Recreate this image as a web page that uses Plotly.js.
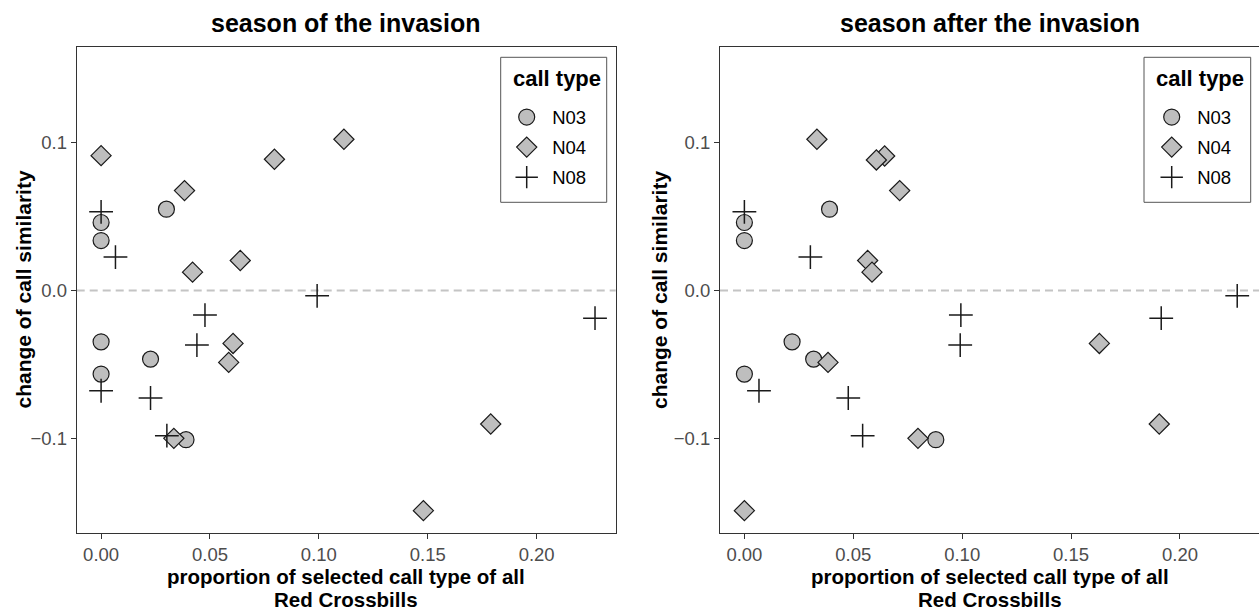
<!DOCTYPE html>
<html>
<head>
<meta charset="utf-8">
<script src="https://cdn.plot.ly/plotly-3.0.1.min.js"></script>
<style>html,body{margin:0;padding:0;background:#fff;}#chart{width:1259px;height:610px;}</style>
</head>
<body>
<div id="chart"></div>
<script>
// ---- data ----
const panelTitles = ['season of the invasion', 'season after the invasion'];
const xTitleLines = ['proportion of selected call type of all', 'Red Crossbills'];
const yTitle = 'change of call similarity';
const legendTitle = 'call type';
const callTypes = ['N03', 'N04', 'N08'];
const xTickVals = [0, 0.05, 0.10, 0.15, 0.20];
const xTickText = ['0.00', '0.05', '0.10', '0.15', '0.20'];
const yTickVals = [-0.1, 0, 0.1];
const yTickText = ['\u22120.1', '0.0', '0.1'];

// season of the invasion
const n03OfX = [0, 0, 0.030, 0, 0.0227, 0, 0.039];
const n03OfY = [0.046, 0.0338, 0.055, -0.0347, -0.0464, -0.0565, -0.1009];
const n04OfX = [0, 0.1115, 0.0796, 0.0383, 0.0639, 0.042, 0.0606, 0.0586, 0.0334, 0.1789, 0.148];
const n04OfY = [0.0912, 0.1023, 0.0888, 0.0676, 0.0203, 0.0124, -0.0358, -0.0486, -0.100, -0.0903, -0.1489];
const n08OfX = [0, 0.0066, 0.0992, 0.0477, 0.2268, 0.044, 0, 0.0227, 0.0302];
const n08OfY = [0.0532, 0.0226, -0.0036, -0.0166, -0.0187, -0.0369, -0.0678, -0.0727, -0.0982];

// season after the invasion
const n03AfterX = [0.0391, 0, 0, 0.0219, 0.0318, 0, 0.0879];
const n03AfterY = [0.055, 0.046, 0.0338, -0.0347, -0.0464, -0.0565, -0.1009];
const n04AfterX = [0.0333, 0.0644, 0.0606, 0.0713, 0.0566, 0.0586, 0.0384, 0.0797, 0, 0.163, 0.1905];
const n04AfterY = [0.1023, 0.091, 0.0883, 0.0676, 0.0203, 0.0124, -0.0486, -0.100, -0.1489, -0.0358, -0.0903];
const n08AfterX = [0, 0.0303, 0.0994, 0.2263, 0.1914, 0.0991, 0.0067, 0.0477, 0.0543];
const n08AfterY = [0.0532, 0.0226, -0.0166, -0.0036, -0.0187, -0.0369, -0.0678, -0.0727, -0.0982];

// ---- styling ----
const FONT = 'Liberation Sans, Arial, Helvetica, sans-serif';
const FILL = '#bebebe';
const EDGE = '#1a1a1a';
const markerStyles = [
  {symbol: 'circle', size: 16, color: FILL, line: {color: EDGE, width: 1.2}},
  {symbol: 'diamond', size: 15.5, color: FILL, line: {color: EDGE, width: 1.2}},
  {symbol: 'cross-thin', size: 17, color: EDGE, line: {color: EDGE, width: 1.5}}
];

function mkTrace(x, y, i, panel) {
  return {
    type: 'scatter', mode: 'markers', x: x, y: y,
    name: callTypes[i],
    xaxis: panel === 0 ? 'x' : 'x2',
    yaxis: panel === 0 ? 'y' : 'y2',
    legend: panel === 0 ? 'legend' : 'legend2',
    legendgroup: 'p' + panel + 'g' + i,
    marker: markerStyles[i],
    hoverinfo: 'x+y+name'
  };
}

const traces = [
  mkTrace(n03OfX, n03OfY, 0, 0), mkTrace(n04OfX, n04OfY, 1, 0), mkTrace(n08OfX, n08OfY, 2, 0),
  mkTrace(n03AfterX, n03AfterY, 0, 1), mkTrace(n04AfterX, n04AfterY, 1, 1), mkTrace(n08AfterX, n08AfterY, 2, 1)
];

const W = 1259, H = 610;
const px = v => v / W;          // horizontal pixel -> paper
const py = v => 1 - v / H;      // vertical pixel (from top) -> paper
const yDom = [py(533), py(47)];
const x1Dom = [px(76.7), px(615.7)];
const x2Dom = [px(720), 1];
const panelCenters = [(76.7 + 615.7) / 2, (720 + 1259) / 2];
const yTitleX = [22.5, 659];
const legendBoxes = [[500.7, 606.7], [1144, 1250.7]];
const legendMarkerX = [526.7, 1171.7];
const LEG_ITEMW = 41;
const xRange = [-0.0112, 0.2363];
const yRange = [-0.164, 0.1647];

function xAxis(dom, anchor) {
  return {
    domain: dom, anchor: anchor, range: xRange,
    tickmode: 'array', tickvals: xTickVals, ticktext: xTickText,
    ticks: 'outside', ticklen: 5, tickwidth: 1, tickcolor: '#333333',
    tickfont: {family: FONT, size: 18.5, color: '#4d4d4d'},
    showline: true, linecolor: '#333333', linewidth: 1, mirror: true,
    showgrid: false, zeroline: false
  };
}
function yAxis(dom, anchor) {
  return {
    domain: dom, anchor: anchor, range: yRange,
    tickmode: 'array', tickvals: yTickVals, ticktext: yTickText,
    ticks: 'outside', ticklen: 5, tickwidth: 1, tickcolor: '#333333',
    tickfont: {family: FONT, size: 18.5, color: '#4d4d4d'},
    showline: true, linecolor: '#333333', linewidth: 1, mirror: true,
    showgrid: false, zeroline: false
  };
}
function legendCfg(i) {
  return {
    x: px(legendMarkerX[i] - 5 - LEG_ITEMW / 2), xanchor: 'left', y: py(98.5), yanchor: 'top',
    bgcolor: 'rgba(0,0,0,0)', borderwidth: 0, itemwidth: LEG_ITEMW,
    font: {family: FONT, size: 18.5, color: '#000'},
    tracegroupgap: 3, itemclick: false, itemdoubleclick: false
  };
}

const boldFont = size => ({family: FONT, size: size, color: '#000', weight: 'bold'});
const annotations = [];
[0, 1].forEach(i => {
  annotations.push({text: panelTitles[i], xref: 'paper', yref: 'paper', x: px(panelCenters[i]), y: py(23),
    xanchor: 'center', yanchor: 'middle', showarrow: false, font: boldFont(25)});
  annotations.push({text: xTitleLines[0], xref: 'paper', yref: 'paper', x: px(panelCenters[i]), y: py(576.5),
    xanchor: 'center', yanchor: 'middle', showarrow: false, font: boldFont(20.5)});
  annotations.push({text: xTitleLines[1], xref: 'paper', yref: 'paper', x: px(panelCenters[i]), y: py(599.5),
    xanchor: 'center', yanchor: 'middle', showarrow: false, font: boldFont(20.5)});
  annotations.push({text: yTitle, xref: 'paper', yref: 'paper', x: px(yTitleX[i]), y: py(290),
    xanchor: 'center', yanchor: 'middle', textangle: -90, showarrow: false, font: boldFont(21)});
  annotations.push({text: legendTitle, xref: 'paper', yref: 'paper',
    x: px((legendBoxes[i][0] + legendBoxes[i][1]) / 2 + 3), y: py(79),
    xanchor: 'center', yanchor: 'middle', showarrow: false, font: boldFont(22)});
});

const shapes = [
  {type: 'line', layer: 'below', xref: 'x domain', yref: 'y', x0: 0, x1: 1, y0: 0, y1: 0,
   line: {color: '#c4c4c4', width: 2, dash: '8px,5px'}},
  {type: 'line', layer: 'below', xref: 'x2 domain', yref: 'y2', x0: 0, x1: 1, y0: 0, y1: 0,
   line: {color: '#c4c4c4', width: 2, dash: '8px,5px'}}
];
legendBoxes.forEach(b => shapes.push({
  type: 'rect', layer: 'above', xref: 'paper', yref: 'paper',
  x0: px(b[0]), x1: px(b[1]), y0: py(202.3), y1: py(57.3),
  line: {color: '#555555', width: 1}, fillcolor: 'rgba(0,0,0,0)'
}));

const layout = {
  width: W, height: H,
  margin: {l: 0, r: 0, t: 0, b: 0},
  paper_bgcolor: '#ffffff', plot_bgcolor: '#ffffff',
  font: {family: FONT},
  xaxis: xAxis(x1Dom, 'y'), yaxis: yAxis(yDom, 'x'),
  xaxis2: xAxis(x2Dom, 'y2'), yaxis2: yAxis(yDom, 'x2'),
  legend: legendCfg(0),
  legend2: legendCfg(1),
  shapes: shapes,
  annotations: annotations
};

Plotly.newPlot('chart', traces, layout, {displayModeBar: false, responsive: false});
</script>
</body>
</html>
